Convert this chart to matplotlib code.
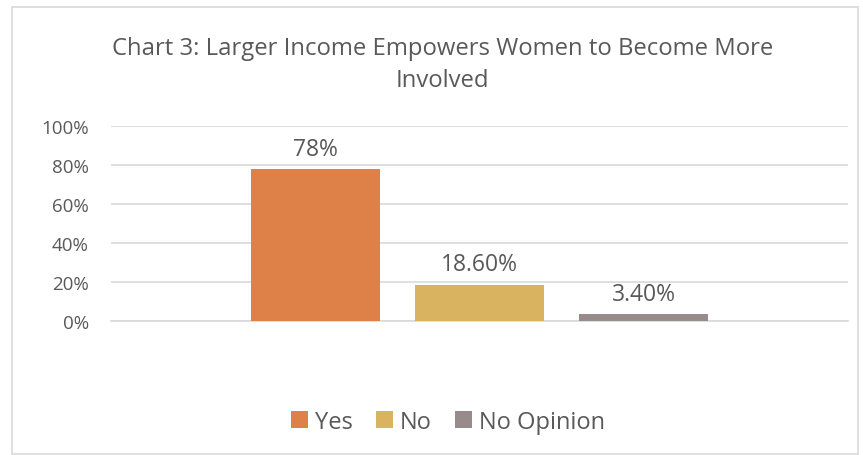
import matplotlib
matplotlib.use('Agg')
import matplotlib.pyplot as plt
from matplotlib.patches import Rectangle

# chart data
series = ['Yes', 'No', 'No Opinion']
values = [78, 18.6, 3.4]
value_labels = ['78%', '18.60%', '3.40%']
colors = ['#DE8149', '#D9B35F', '#978C89']
yticks = [0, 20, 40, 60, 80, 100]
title = 'Chart 3: Larger Income Empowers Women to Become More\nInvolved'

text_color = '#595959'
plt.rcParams['font.family'] = ['Open Sans', 'DejaVu Sans']

fig = plt.figure(figsize=(8.63, 4.56), dpi=100)
ax = fig.add_axes([0.1286, 0.2939, 0.8540, 0.4276])

# chart border
fig.patches.append(Rectangle((12 / 863, 0.002), 846 / 863, 1 - 8 / 456 - 0.002,
                             transform=fig.transFigure, fill=False,
                             edgecolor='#D9D9D9', linewidth=1.2))

spacing = 0.2225
width = 0.175
for i, (name, v, lab, c) in enumerate(zip(series, values, value_labels, colors)):
    x = 0.5 + (i - 1) * spacing
    bars = ax.bar(x, v, width=width, color=c, label=name, zorder=3)
    ax.bar_label(bars, labels=[lab], padding=6, fontsize=16.5, color=text_color)

ax.set_xlim(0, 1)
ax.set_ylim(0, 100)
ax.set_yticks(yticks)
ax.set_yticklabels(['{}%'.format(t) for t in yticks], fontsize=13.5,
                   color=text_color)
ax.set_xticks([])
ax.tick_params(axis='y', length=0, pad=16)
ax.grid(axis='y', color='#D9D9D9', linewidth=1.2, zorder=0)
for s in ['top', 'right', 'left']:
    ax.spines[s].set_visible(False)
ax.spines['bottom'].set_color('#D9D9D9')
ax.spines['bottom'].set_linewidth(1.2)

fig.text(0.513, 0.858, title, ha='center', va='center', fontsize=17.2,
         color=text_color, linespacing=1.45)

fig.legend(loc='center', bbox_to_anchor=(0.519, 0.073), ncol=3, frameon=False,
           fontsize=17, handlelength=0.7, handleheight=0.7,
           handletextpad=0.3, columnspacing=1.0, labelcolor=text_color)

fig.savefig('out.png', dpi=100)
